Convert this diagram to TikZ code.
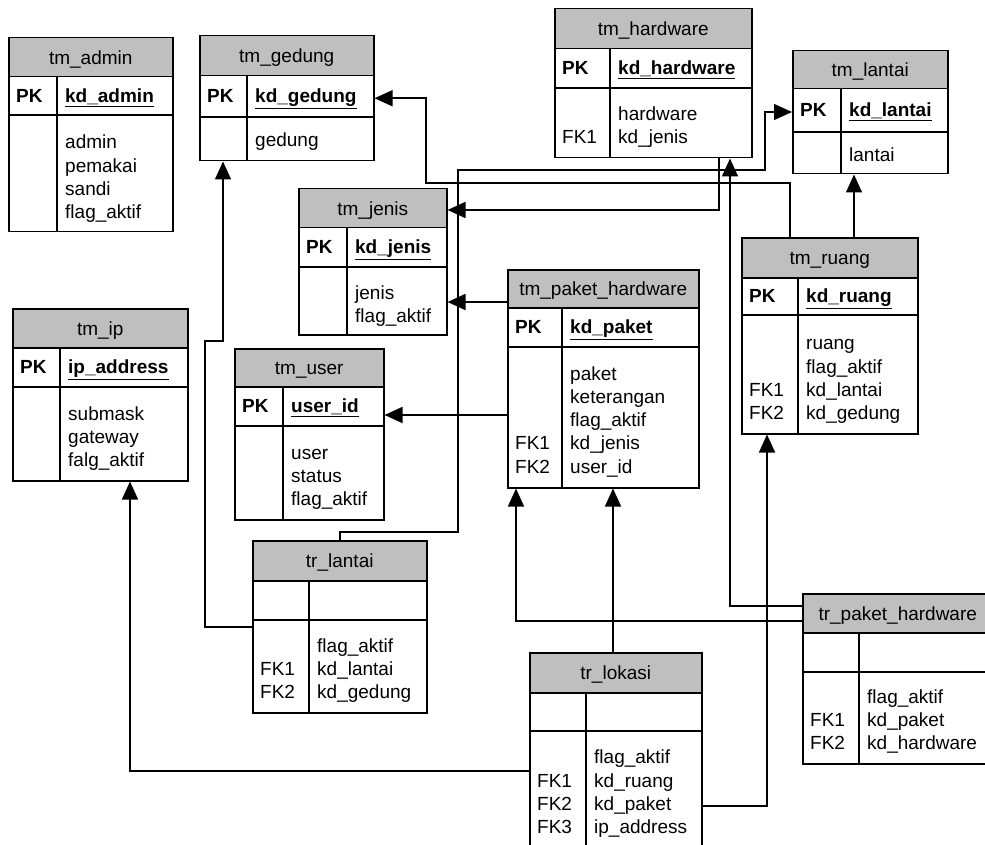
\documentclass[tikz,border=0pt]{standalone}
\usepackage{fontspec}
\setmainfont{Liberation Sans}
\usetikzlibrary{arrows.meta}
\newcommand{\keycols}[2]{\begin{tabular}{@{}p{#1pt}@{}l@{}}#2\end{tabular}}

\begin{document}
\begin{tikzpicture}[x=1pt,y=-1pt,font=\fontsize{19}{23.3}\selectfont,
   tblframe/.style={draw,line width=1.5pt,anchor=north west,inner sep=0pt},
   tblhead/.style={tblframe,fill=black!25,text height=17pt,text depth=3pt},
   tblrow/.style={anchor=west,inner sep=0pt},
   fk/.style={line width=1.5pt,-{Triangle[length=18pt,width=16pt]}}]
   \useasboundingbox (0,0) rectangle (985,845);
   \clip (0,0) rectangle (985,845);

   \node[tblframe,minimum width=164,minimum height=194] (admin) at (8,37) {};
   \node[tblhead,minimum width=164,minimum height=39] (admin-h) at (8,37) {tm\_admin};
   \draw[line width=1.5pt] (8,115) -- (172,115) (57,76) -- (57,231);
   \node[tblrow] (admin-pk) at (16,97.5) {\keycols{49}{\textbf{PK}&\underline{\textbf{kd\_admin}}}};
   \node[tblrow] (admin-b) at (16,179) {\keycols{49}{&admin\\&pemakai\\&sandi\\&flag\_aktif}};

   \node[tblframe,minimum width=174,minimum height=125] (gedung) at (199,35) {};
   \node[tblhead,minimum width=174,minimum height=40] (gedung-h) at (199,35) {tm\_gedung};
   \draw[line width=1.5pt] (199,117) -- (373,117) (247,75) -- (247,160);
   \node[tblrow] (gedung-pk) at (207,98) {\keycols{48}{\textbf{PK}&\underline{\textbf{kd\_gedung}}}};
   \node[tblrow] (gedung-b) at (207,142) {\keycols{48}{&gedung}};

   \node[tblframe,minimum width=197,minimum height=149] (hardware) at (554,8) {};
   \node[tblhead,minimum width=197,minimum height=40] (hardware-h) at (554,8) {tm\_hardware};
   \draw[line width=1.5pt] (554,88) -- (751,88) (610,48) -- (610,157);
   \node[tblrow] (hardware-pk) at (562,70) {\keycols{56}{\textbf{PK}&\underline{\textbf{kd\_hardware}}}};
   \node[tblrow] (hardware-b) at (562,127) {\keycols{56}{&hardware\\FK1&kd\_jenis}};

   \node[tblframe,minimum width=155,minimum height=123] (lantai) at (792,50) {};
   \node[tblhead,minimum width=155,minimum height=38] (lantai-h) at (792,50) {tm\_lantai};
   \draw[line width=1.5pt] (792,132) -- (947,132) (841,88) -- (841,173);
   \node[tblrow] (lantai-pk) at (800,112) {\keycols{49}{\textbf{PK}&\underline{\textbf{kd\_lantai}}}};
   \node[tblrow] (lantai-b) at (800,157) {\keycols{49}{&lantai}};

   \node[tblframe,minimum width=176,minimum height=196] (ruang) at (741,237) {};
   \node[tblhead,minimum width=176,minimum height=40] (ruang-h) at (741,237) {tm\_ruang};
   \draw[line width=1.5pt] (741,315) -- (917,315) (798,277) -- (798,433);
   \node[tblrow] (ruang-pk) at (749,298) {\keycols{57}{\textbf{PK}&\underline{\textbf{kd\_ruang}}}};
   \node[tblrow] (ruang-b) at (749,380) {\keycols{57}{&ruang\\&flag\_aktif\\FK1&kd\_lantai\\FK2&kd\_gedung}};

   \node[tblframe,minimum width=148,minimum height=146] (jenis) at (298,188) {};
   \node[tblhead,minimum width=148,minimum height=39] (jenis-h) at (298,188) {tm\_jenis};
   \draw[line width=1.5pt] (298,267) -- (446,267) (347,227) -- (347,334);
   \node[tblrow] (jenis-pk) at (306,249) {\keycols{49}{\textbf{PK}&\underline{\textbf{kd\_jenis}}}};
   \node[tblrow] (jenis-b) at (306,306) {\keycols{49}{&jenis\\&flag\_aktif}};

   \node[tblframe,minimum width=175,minimum height=172] (ip) at (12,308) {};
   \node[tblhead,minimum width=175,minimum height=39] (ip-h) at (12,308) {tm\_ip};
   \draw[line width=1.5pt] (12,387) -- (187,387) (60,347) -- (60,480);
   \node[tblrow] (ip-pk) at (20,369) {\keycols{48}{\textbf{PK}&\underline{\textbf{ip\_address}}}};
   \node[tblrow] (ip-b) at (20,439) {\keycols{48}{&submask\\&gateway\\&falg\_aktif}};

   \node[tblframe,minimum width=149,minimum height=171] (user) at (234,348) {};
   \node[tblhead,minimum width=149,minimum height=38] (user-h) at (234,348) {tm\_user};
   \draw[line width=1.5pt] (234,426) -- (383,426) (283,386) -- (283,519);
   \node[tblrow] (user-pk) at (242,408) {\keycols{49}{\textbf{PK}&\underline{\textbf{user\_id}}}};
   \node[tblrow] (user-b) at (242,478) {\keycols{49}{&user\\&status\\&flag\_aktif}};

   \node[tblframe,minimum width=191,minimum height=218] (paket) at (507,269) {};
   \node[tblhead,minimum width=191,minimum height=38] (paket-h) at (507,269) {tm\_paket\_hardware};
   \draw[line width=1.5pt] (507,347) -- (698,347) (562,307) -- (562,487);
   \node[tblrow] (paket-pk) at (515,329) {\keycols{55}{\textbf{PK}&\underline{\textbf{kd\_paket}}}};
   \node[tblrow] (paket-b) at (515,422) {\keycols{55}{&paket\\&keterangan\\&flag\_aktif\\FK1&kd\_jenis\\FK2&user\_id}};

   \node[tblframe,minimum width=174,minimum height=172] (trlantai) at (252,540) {};
   \node[tblhead,minimum width=174,minimum height=40] (trlantai-h) at (252,540) {tr\_lantai};
   \draw[line width=1.5pt] (252,620) -- (426,620) (309,580) -- (309,712);
   \node[tblrow] (trlantai-b) at (260,671) {\keycols{57}{&flag\_aktif\\FK1&kd\_lantai\\FK2&kd\_gedung}};

   \node[tblframe,minimum width=172,minimum height=198] (lokasi) at (529,652) {};
   \node[tblhead,minimum width=172,minimum height=40] (lokasi-h) at (529,652) {tr\_lokasi};
   \draw[line width=1.5pt] (529,731) -- (701,731) (586,692) -- (586,850);
   \node[tblrow] (lokasi-b) at (537,794) {\keycols{57}{&flag\_aktif\\FK1&kd\_ruang\\FK2&kd\_paket\\FK3&ip\_address}};

   \node[tblframe,minimum width=190,minimum height=170] (trpaket) at (802,593) {};
   \node[tblhead,minimum width=190,minimum height=39] (trpaket-h) at (802,593) {tr\_paket\_hardware};
   \draw[line width=1.5pt] (802,672) -- (992,672) (859,632) -- (859,763);
   \node[tblrow] (trpaket-b) at (810,722) {\keycols{57}{&flag\_aktif\\FK1&kd\_paket\\FK2&kd\_hardware}};

   \draw[fk] (ruang.north -| 790,0) |- (426,183) |- (gedung.east);
   \draw[fk] (hardware.south -| 719,0) |- (jenis.east |- 0,210);
   \draw[fk] (trlantai.north -| 340,0) |- (458,532) |- (765,170) |- (lantai.west |- 0,112);
   \draw[fk] (paket.west |- 0,302) -- (jenis.east |- 0,302);
   \draw[fk] (paket.west |- 0,415) -- (user.east |- 0,415);
   \draw[fk] (trlantai.west |- 0,627) -| (205,341) -| (gedung.south -| 223,0);
   \draw[fk] (lokasi.west |- 0,771) -| (ip.south -| 130,0);
   \draw[fk] (trpaket.west |- 0,621) -| (paket.south -| 516,0);
   \draw[fk] (lokasi.north -| 613,0) -- (paket.south -| 613,0);
   \draw[fk] (trpaket.west |- 0,606) -| (hardware.south -| 730,0);
   \draw[fk] (lokasi.east |- 0,806) -| (ruang.south -| 767,0);
   \draw[fk] (ruang.north -| 854,0) -- (lantai.south -| 854,0);
\end{tikzpicture}
\end{document}
